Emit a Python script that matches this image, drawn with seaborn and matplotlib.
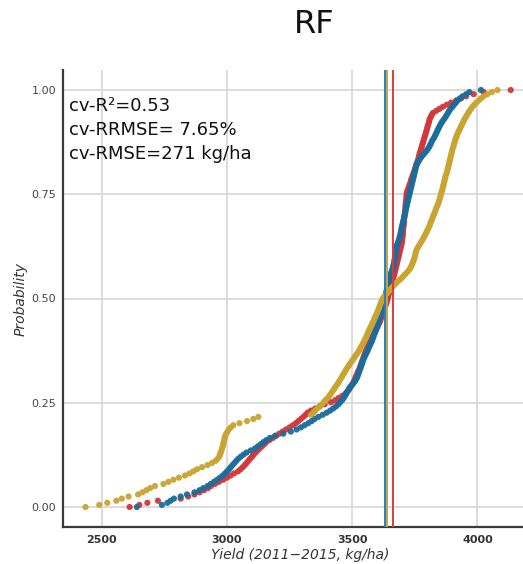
import numpy as np
import pandas as pd
import matplotlib
matplotlib.use("Agg")
import matplotlib.pyplot as plt
import seaborn as sns

# ---- data (yields in kg/ha, sorted; probability = empirical rank) ----
red_yield = [2611, 2650, 2682, 2724, 2815, 2845, 2870, 2890, 2908, 2924,
             2936, 2952, 2968, 2985, 3000, 3014, 3028, 3044, 3054, 3063,
             3071, 3078, 3085, 3092, 3100, 3106, 3114, 3122, 3131, 3140,
             3149, 3157, 3170, 3184, 3197, 3209, 3222, 3236, 3250, 3263,
             3275, 3285, 3295, 3305, 3314, 3322, 3335, 3352, 3370, 3390,
             3415, 3432, 3446, 3460, 3472, 3480, 3486, 3492, 3498, 3503,
             3507, 3511, 3514, 3518, 3521, 3525, 3529, 3532, 3535, 3538,
             3541, 3544, 3547, 3550, 3553, 3556, 3560, 3564, 3568, 3572,
             3576, 3580, 3584, 3589, 3593, 3597, 3601, 3605, 3609, 3612,
             3615, 3618, 3621, 3624, 3627, 3630, 3633, 3636, 3638, 3640,
             3643, 3645, 3647, 3649, 3652, 3654, 3656, 3658, 3661, 3663,
             3665, 3668, 3670, 3672, 3674, 3676, 3678, 3680, 3682, 3684,
             3686, 3688, 3690, 3692, 3694, 3696, 3698, 3699, 3700, 3701,
             3702, 3703, 3703, 3704, 3705, 3706, 3707, 3707, 3708, 3709,
             3710, 3711, 3712, 3713, 3713, 3714, 3715, 3716, 3717, 3717,
             3718, 3721, 3724, 3727, 3730, 3733, 3735, 3738, 3741, 3744,
             3747, 3750, 3753, 3755, 3758, 3761, 3764, 3766, 3768, 3770,
             3773, 3775, 3778, 3780, 3783, 3785, 3788, 3790, 3793, 3795,
             3798, 3800, 3802, 3805, 3807, 3809, 3813, 3817, 3822, 3835,
             3848, 3862, 3878, 3895, 3915, 3935, 3955, 3985, 4025, 4133]

blue_yield = [2640, 2740, 2762, 2775, 2788, 2815, 2840, 2870, 2890, 2905,
              2922, 2935, 2948, 2960, 2972, 2983, 2992, 3000, 3008, 3015,
              3022, 3030, 3037, 3045, 3055, 3066, 3078, 3095, 3112, 3124,
              3135, 3146, 3158, 3172, 3192, 3225, 3255, 3278, 3295, 3310,
              3325, 3338, 3350, 3365, 3382, 3398, 3412, 3424, 3435, 3445,
              3452, 3460, 3466, 3471, 3476, 3480, 3486, 3490, 3497, 3504,
              3511, 3516, 3520, 3523, 3526, 3529, 3532, 3535, 3538, 3541,
              3543, 3547, 3551, 3555, 3559, 3563, 3566, 3570, 3574, 3578,
              3581, 3584, 3587, 3590, 3593, 3596, 3599, 3601, 3604, 3607,
              3609, 3612, 3614, 3617, 3619, 3621, 3623, 3625, 3627, 3629,
              3631, 3633, 3635, 3637, 3639, 3641, 3643, 3645, 3647, 3649,
              3651, 3653, 3656, 3659, 3662, 3664, 3666, 3668, 3669, 3671,
              3672, 3673, 3674, 3675, 3676, 3679, 3682, 3685, 3688, 3690,
              3692, 3694, 3696, 3697, 3699, 3701, 3703, 3705, 3707, 3709,
              3711, 3713, 3714, 3716, 3718, 3720, 3722, 3724, 3726, 3728,
              3730, 3732, 3734, 3736, 3738, 3740, 3742, 3744, 3746, 3748,
              3750, 3752, 3754, 3756, 3760, 3765, 3770, 3776, 3783, 3790,
              3797, 3803, 3808, 3812, 3816, 3820, 3826, 3830, 3834, 3838,
              3842, 3846, 3850, 3855, 3860, 3866, 3872, 3877, 3882, 3887,
              3893, 3900, 3907, 3914, 3921, 3930, 3941, 3955, 3968, 4014]

gold_yield = [2435, 2490, 2522, 2558, 2580, 2607, 2645, 2662, 2678, 2693,
              2712, 2746, 2766, 2786, 2808, 2832, 2850, 2865, 2880, 2900,
              2922, 2940, 2954, 2963, 2969, 2972, 2975, 2978, 2980, 2983,
              2985, 2987, 2989, 2991, 2993, 2997, 3002, 3007, 3015, 3025,
              3050, 3080, 3105, 3125, 3335, 3345, 3352, 3360, 3370, 3379,
              3386, 3393, 3402, 3409, 3414, 3420, 3426, 3431, 3437, 3443,
              3448, 3453, 3458, 3463, 3468, 3473, 3478, 3484, 3489, 3495,
              3501, 3507, 3512, 3518, 3524, 3529, 3533, 3538, 3543, 3547,
              3551, 3555, 3559, 3563, 3566, 3570, 3574, 3578, 3582, 3586,
              3589, 3593, 3597, 3600, 3604, 3607, 3610, 3613, 3616, 3620,
              3625, 3632, 3640, 3647, 3653, 3661, 3669, 3677, 3686, 3695,
              3703, 3711, 3719, 3726, 3732, 3736, 3740, 3743, 3746, 3749,
              3751, 3753, 3755, 3758, 3763, 3768, 3773, 3778, 3783, 3787,
              3792, 3796, 3800, 3804, 3808, 3811, 3814, 3818, 3821, 3824,
              3828, 3831, 3834, 3837, 3841, 3844, 3847, 3849, 3852, 3854,
              3856, 3859, 3861, 3863, 3865, 3867, 3869, 3871, 3873, 3876,
              3879, 3881, 3883, 3885, 3887, 3889, 3891, 3893, 3895, 3897,
              3899, 3901, 3904, 3906, 3909, 3911, 3914, 3917, 3920, 3924,
              3928, 3932, 3936, 3940, 3944, 3948, 3953, 3958, 3963, 3968,
              3974, 3980, 3988, 3996, 4005, 4014, 4025, 4040, 4058, 4080]

series_names = ["red", "blue", "gold"]
series_yields = [red_yield, blue_yield, gold_yield]
point_colors = {"red": "#d0383a", "blue": "#1c6c9c", "gold": "#c9a431"}

mean_lines = {"blue": 3629, "gold": 3640, "red": 3662}
line_colors = {"blue": "#2a7cc8", "gold": "#c9a431", "red": "#de3a3c"}

metrics_text = "cv-R\u00b2=0.53\ncv-RRMSE= 7.65%\ncv-RMSE=271 kg/ha"
title_text = "RF"
x_ticks = [2500, 3000, 3500, 4000]
y_ticks = [0.00, 0.25, 0.50, 0.75, 1.00]

# ---- build long table ----
frames = []
for name, ys in zip(series_names, series_yields):
    ys = np.sort(np.asarray(ys, dtype=float))
    prob = np.arange(len(ys)) / (len(ys) - 1)
    frames.append(pd.DataFrame({"Yield": ys, "Probability": prob, "series": name}))
df = pd.concat(frames, ignore_index=True)

sns.set_style("whitegrid")
plt.rcParams["font.family"] = ["DejaVu Sans"]

W, H = 523, 564
fig = plt.figure(figsize=(W / 100, H / 100), dpi=100)
ax = fig.add_axes([63 / W, (H - 527) / H, (537 - 63) / W, (527 - 70) / H])

sns.scatterplot(data=df, x="Yield", y="Probability", hue="series",
                hue_order=series_names, palette=point_colors,
                s=20, linewidth=0, alpha=0.95, legend=False, ax=ax)

for name in ["gold", "blue", "red"]:
    ax.axvline(mean_lines[name], color=line_colors[name], lw=1.4, zorder=3)

ax.set_xlim(2345, 4238)
ax.set_ylim(-0.048, 1.048)
ax.set_xticks(x_ticks)
ax.set_yticks(y_ticks)
ax.set_yticklabels([f"{v:.2f}" for v in y_ticks])
ax.tick_params(axis="x", labelsize=8, colors="#333333", pad=6, length=0)
ax.tick_params(axis="y", labelsize=8, colors="#444444", pad=5, length=0)
for lab in ax.get_xticklabels():
    lab.set_fontweight("bold")

ax.grid(True, color="#d9d9d9", lw=1.3)
for side in ["top", "right"]:
    ax.spines[side].set_visible(False)
for side in ["left", "bottom"]:
    ax.spines[side].set_color("#3a3a3a")
    ax.spines[side].set_linewidth(1.6)

ax.set_xlabel("Yield (2011\u22122015, kg/ha)", fontsize=10, style="italic",
              color="#333333", labelpad=2)
ax.set_ylabel("Probability", fontsize=10, style="italic", color="#333333",
              labelpad=3)

ax.text(0.012, 0.94, metrics_text, transform=ax.transAxes, fontsize=13,
        va="top", ha="left", color="#111111", linespacing=1.42)

fig.text(314 / W, 1 - 33 / H, title_text, fontsize=23, ha="center",
         va="baseline", color="#111111")

fig.savefig("out.png", dpi=100)
